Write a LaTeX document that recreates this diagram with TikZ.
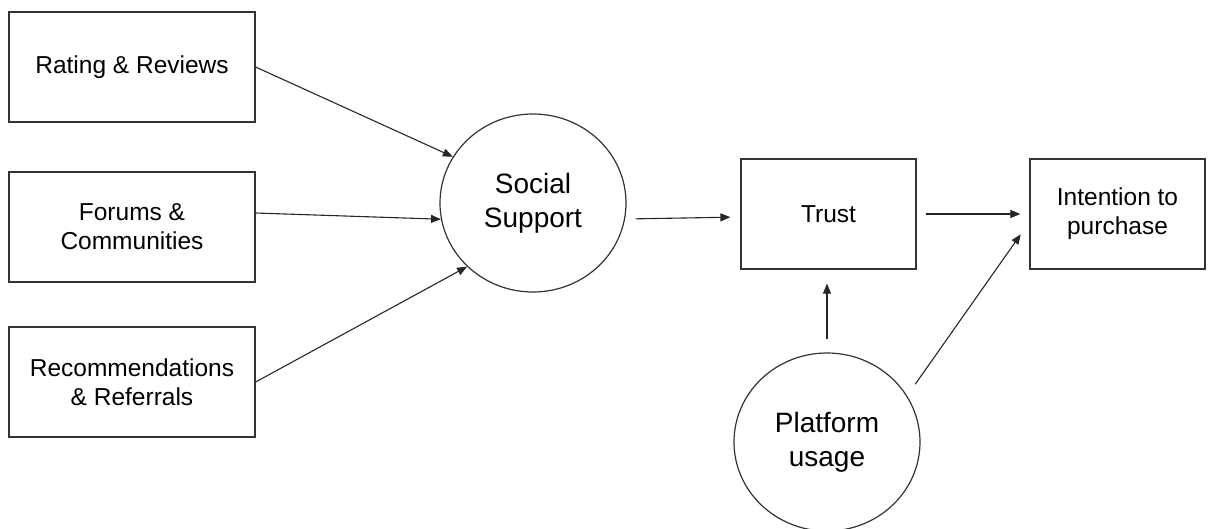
\documentclass[tikz,border=0pt]{standalone}
\usepackage{fontspec}
\setmainfont{Liberation Sans}
\usetikzlibrary{arrows.meta,shapes.geometric}

\begin{document}
\begin{tikzpicture} [
    x=1pt, y=-1pt,
    box/.style={draw=black!80, line width=1.2pt, minimum width=246pt,
      minimum height=110pt, inner sep=0pt, align=center,
      font=\fontsize{24.5}{29}\selectfont},
    smallbox/.style={box, minimum width=175pt},
    circ/.style={ellipse, draw=black!80, line width=1.2pt, minimum width=186pt,
      minimum height=178pt, inner sep=0pt, align=center,
      font=\fontsize{28}{34}\selectfont},
    link/.style={draw=black!85, line width=1.1pt, -{Triangle[length=10pt,width=8pt]}}
  ]
  \useasboundingbox (0,0) rectangle (1211,528);

  \node[box] (rating) at (132,67) {Rating \& Reviews};
  \node[box] (forums) at (132,227) {Forums \&\\Communities};
  \node[box] (recs) at (132,382) {Recommendations\\\& Referrals};
  \node[circ] (social) at (533,203) {Social\\Support};
  \node[smallbox] (trust) at (828.5,214) {Trust};
  \node[smallbox] (intent) at (1117.5,214) {Intention to\\purchase};
  \node[circ] (platform) at (827,442) {Platform\\usage};

  \draw[link] (rating.east) -- (social.150);
  \draw[link] ([yshift=14pt]forums.east) -- (social.190);
  \draw[link] (recs.east) -- (social.224);
  \draw[link, shorten <=9pt, shorten >=10pt] ([yshift=-16pt]social.east) -- ([yshift=-3pt]trust.west);
  \draw[link, shorten <=9pt, shorten >=9pt] (trust.east) -- (intent.west);
  \draw[link, shorten <=13pt, shorten >=14pt] (platform.north) -- (platform.north |- trust.south);
  \draw[link, shorten <=14pt, shorten >=15pt] (platform.30) -- ([yshift=-8pt]intent.west);
\end{tikzpicture}
\end{document}
